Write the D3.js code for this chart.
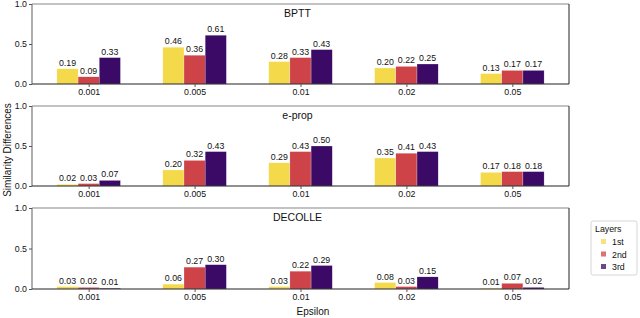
<!DOCTYPE html>
<html><head><meta charset="utf-8">
<script src="https://cdn.jsdelivr.net/npm/d3@7"></script>
<style>body{margin:0;background:#fff}svg{display:block;font-family:"Liberation Sans",Arial,sans-serif}</style>
</head><body><svg id="c" width="640" height="318"></svg>
<script>
const categories = ["0.001","0.005","0.01","0.02","0.05"];
const layers = ["1st","2nd","3rd"];
const panels = ["BPTT","e-prop","DECOLLE"];
const bptt = [[0.19,0.46,0.28,0.20,0.13],[0.09,0.36,0.33,0.22,0.17],[0.33,0.61,0.43,0.25,0.17]];
const eprop = [[0.02,0.20,0.29,0.35,0.17],[0.03,0.32,0.43,0.41,0.18],[0.07,0.43,0.50,0.43,0.18]];
const decolle = [[0.03,0.06,0.03,0.08,0.01],[0.02,0.27,0.22,0.03,0.07],[0.01,0.30,0.29,0.15,0.02]];
const yTicks = [0,0.5,1.0];
const colors = ["#f4d94a","#cd4348","#3a0a66"];
const panelData = [bptt, eprop, decolle];

const svg = d3.select("#c");
const left = 32, right = 569;
const tops = [4,106,208], heights = [80,80,81];
const x = d3.scaleLinear().domain([-0.535, 4.535]).range([left, right]);
const bw = 0.2;

panels.forEach((name, p) => {
  const y = d3.scaleLinear().domain([0,1]).range([tops[p]+heights[p], tops[p]]);
  const g = svg.append("g");
  const data = panelData[p];
  data.forEach((series, s) => {
    series.forEach((v, i) => {
      const cx = i + (s-1)*bw;
      g.append("rect")
        .attr("x", x(cx - bw/2)).attr("width", x(bw)-x(0))
        .attr("y", y(v)).attr("height", y(0)-y(v))
        .attr("fill", colors[s]).attr("stroke","#fff").attr("stroke-width",0.4).attr("stroke-opacity",0.6);
      g.append("text").attr("x", x(cx)).attr("y", y(v)-3)
        .attr("text-anchor","middle").attr("font-size",8.8).attr("fill","#111")
        .text(v.toFixed(2));
    });
  });
  const y0 = y(0), y1 = y(1);
  g.append("line").attr("x1",left).attr("x2",right).attr("y1",y1).attr("y2",y1).attr("stroke","#888").attr("stroke-width",1.2);
  g.append("line").attr("x1",left).attr("x2",left).attr("y1",y1).attr("y2",y0).attr("stroke","#777").attr("stroke-width",1.2);
  g.append("line").attr("x1",right).attr("x2",right).attr("y1",y1).attr("y2",y0).attr("stroke","#222").attr("stroke-width",1);
  g.append("line").attr("x1",left).attr("x2",right).attr("y1",y0).attr("y2",y0).attr("stroke","#222").attr("stroke-width",1.2);
  const ya = d3.axisLeft(y).tickValues(yTicks).tickFormat(d3.format(".1f")).tickSize(3).tickPadding(2);
  const yg = g.append("g").attr("transform",`translate(${left},0)`).call(ya);
  yg.select(".domain").remove();
  yg.selectAll("text").attr("font-size",8.8).attr("fill","#111").attr("font-family","Liberation Sans, Arial, sans-serif");
  yg.selectAll("line").attr("stroke","#555");
  const xa = d3.axisBottom(x).tickValues(d3.range(categories.length)).tickFormat(i => categories[i]).tickSize(3).tickPadding(2);
  const xg = g.append("g").attr("transform",`translate(0,${y0})`).call(xa);
  xg.select(".domain").remove();
  xg.selectAll("text").attr("font-size",8.8).attr("fill","#111").attr("font-family","Liberation Sans, Arial, sans-serif");
  xg.selectAll("line").attr("stroke","#555");
  g.append("text").attr("x",(left+right)/2 - 3).attr("y",y1+13).attr("text-anchor","middle")
    .attr("font-size",10.5).attr("fill","#111").text(name);
});

svg.append("text").attr("transform","translate(11,150) rotate(-90)").attr("text-anchor","middle")
  .attr("font-size",10).attr("fill","#111").text("Similarity Differences");
svg.append("text").attr("x",313).attr("y",315).attr("text-anchor","middle")
  .attr("font-size",10).attr("fill","#111").text("Epsilon");

const lg = svg.append("g").attr("transform","translate(591,221)");
lg.append("rect").attr("width",46).attr("height",54).attr("rx",2).attr("fill","#fff").attr("stroke","#ccc").attr("stroke-width",0.8);
lg.append("text").attr("x",4).attr("y",11).attr("font-size",8.8).attr("fill","#111").text("Layers");
layers.forEach((l, i) => {
  const yy = 21 + i*12.5;
  lg.append("rect").attr("x",10).attr("y",yy-3).attr("width",5).attr("height",5).attr("fill",colors[i]).attr("opacity",0.75);
  lg.append("text").attr("x",21).attr("y",yy+3).attr("font-size",8.8).attr("fill","#111").text(l);
});
</script></body></html>
